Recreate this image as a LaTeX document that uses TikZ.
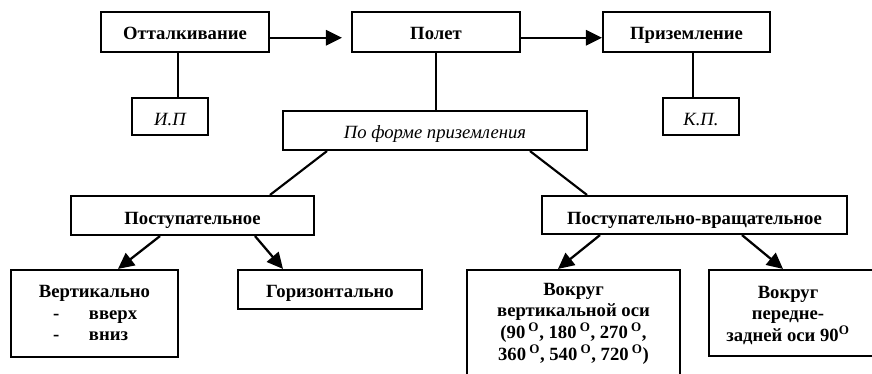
\documentclass[tikz,border=0pt]{standalone}
\usepackage{fontspec}
\setmainfont{Liberation Serif}
\usetikzlibrary{arrows.meta}
\newlength\pxu \setlength\pxu{0.75pt}
% #1 = horizontal shift of text centre (px), #2 = first baseline below node centre (px), #3 = rows
\newcommand{\bt}[3]{\raisebox{-#2\pxu}[0pt][0pt]{\makebox[0pt][c]{\hspace*{#1\pxu}\hspace*{#1\pxu}\begin{tabular}[t]{@{}c@{}}#3\end{tabular}}}}
\tikzset{
  box/.style={draw, line width=1.6pt, inner sep=0pt, font=\fontsize{14pt}{15.75pt}\selectfont\bfseries},
  ibox/.style={box, font=\fontsize{14pt}{15.75pt}\selectfont\itshape},
  conn/.style={line width=1.6pt},
  arr/.style={line width=1.7pt, -{Triangle[length=12pt,width=11.5pt]}},
}
\begin{document}
\begin{tikzpicture}[x=0.75pt, y=-0.75pt]
\useasboundingbox (0,0) rectangle (872,374);
\clip (0,0) rectangle (872,374);
% top row
\node[box, minimum width=126pt, minimum height=30pt] (otl) at (185,32) {\bt{0}{8}{Отталкивание}};
\node[box, minimum width=126pt, minimum height=30pt] (pol) at (436,32) {\bt{0}{8}{Полет}};
\node[box, minimum width=125.25pt, minimum height=30pt] (pri) at (686.5,32) {\bt{0}{8}{Приземление}};
% small boxes
\node[ibox, minimum width=57pt, minimum height=27.75pt] (ip) at (170,116.5) {\bt{0}{9.5}{И.П}};
\node[ibox, minimum width=57pt, minimum height=27.75pt] (kp) at (701,116.5) {\bt{0}{9.5}{К.П.}};
\node[ibox, minimum width=228pt, minimum height=29.25pt] (pfp) at (435,130.5) {\bt{0}{8}{По форме приземления}};
% second level
\node[box, minimum width=182.25pt, minimum height=29.25pt] (post) at (192.5,215.5) {\bt{0}{9.5}{Поступательное}};
\node[box, minimum width=228.75pt, minimum height=28.5pt] (pv) at (694.5,215) {\bt{0}{10}{Поступательно-вращательное}};
% bottom level
\node[box, minimum width=125.25pt, minimum height=65.25pt] (vert) at (94.5,313.5)
  {\bt{0}{-15.5}{Вертикально\\ \makebox[62.25pt][l]{\makebox[27pt][l]{-}вверх}\\ \makebox[62.25pt][l]{\makebox[27pt][l]{-}вниз}}};
\node[box, minimum width=138pt, minimum height=29.25pt] (hor) at (330,289.5) {\bt{0}{8.5}{Горизонтально}};
\node[box, minimum width=159.75pt, minimum height=82.5pt] (vko) at (573.5,325)
  {\bt{0}{-29}{Вокруг\\ вертикальной оси\\ (90\,\textsuperscript{O}, 180\,\textsuperscript{O}, 270\,\textsuperscript{O},\\ 360\,\textsuperscript{O}, 540\,\textsuperscript{O}, 720\,\textsuperscript{O})}};
\node[box, minimum width=128.25pt, minimum height=64.5pt] (vpz) at (794.5,313)
  {\bt{-6.5}{-14}{Вокруг\\ передне-\\ задней оси 90\textsuperscript{O}}};
% connectors
\draw[arr, shorten >=6.75pt] ([yshift=-4.3pt]otl.east) -- ([yshift=-4.3pt]pol.west);
\draw[arr] ([yshift=-4.3pt]pol.east) -- ([yshift=-4.3pt]pri.west);
\draw[conn] ([xshift=-5.25pt]otl.south) -- ([xshift=6pt]ip.north);
\draw[conn] ([xshift=4.875pt]pri.south) -- ([xshift=-6pt]kp.north);
\draw[conn] (pol.south) -- (pol.south |- pfp.north);
\draw[conn] ([xshift=-81pt]pfp.south) -- ([xshift=58.125pt]post.north);
\draw[conn] ([xshift=71.25pt]pfp.south) -- ([xshift=-80.625pt]pv.north);
\draw[arr] ([xshift=-24.375pt]post.south) -- ([xshift=17.625pt]vert.north);
\draw[arr] ([xshift=46.875pt]post.south) -- ([xshift=-35.25pt]hor.north);
\draw[arr] ([xshift=-70.875pt]pv.south) -- ([xshift=-11.625pt]vko.north);
\draw[arr] ([xshift=35.625pt]pv.south) -- ([xshift=-8.625pt]vpz.north);
\end{tikzpicture}
\end{document}
